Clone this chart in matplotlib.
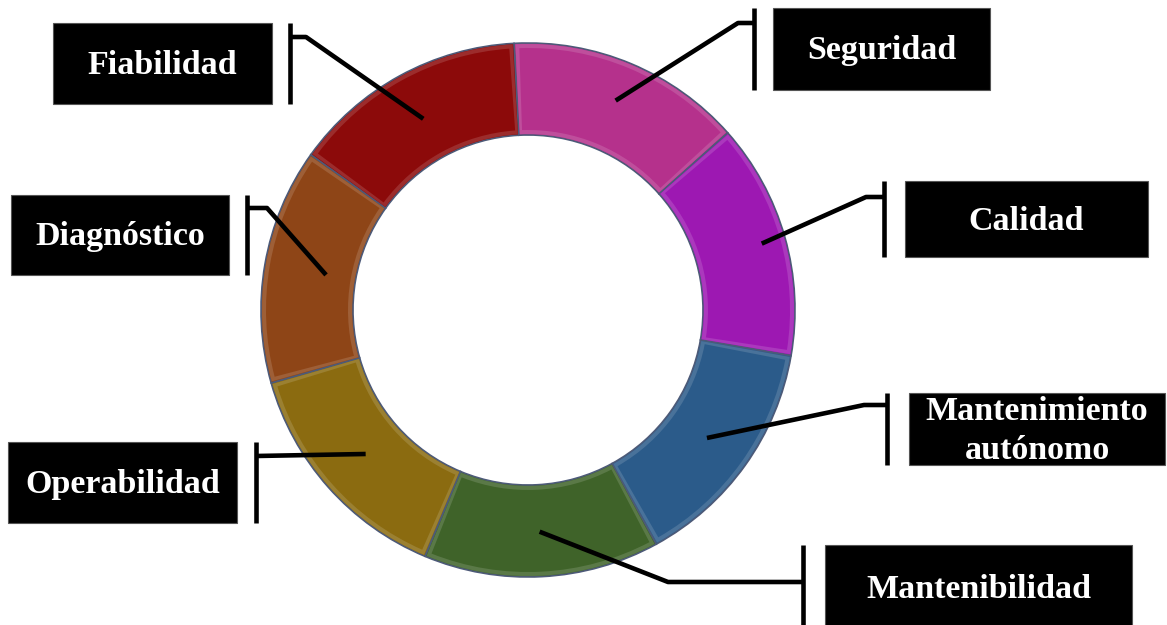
import numpy as np
import matplotlib.pyplot as plt
from matplotlib.patches import Rectangle, Wedge

# Seven equal pillars of the ring, clockwise from the top
labels = ["Seguridad", "Calidad", "Mantenimiento\nautónomo", "Mantenibilidad",
          "Operabilidad", "Diagnóstico", "Fiabilidad"]
values = [1, 1, 1, 1, 1, 1, 1]
colors = ["#B5318C", "#9D18B2", "#2B5B8A", "#3F6329", "#8B6B10", "#8E4517", "#8C0A0A"]

W, H = 1167, 625

# layout, in pixels from top-left: label box (x0, y0, x1, y1), bracket x, hook y, knee x,
# and how far out along the ring each leader ends
boxes = [(773, 8, 990, 90), (905, 181, 1148, 257), (909, 393, 1165, 465),
         (825, 545, 1132, 630), (8, 442, 237, 523), (11, 195, 229, 275),
         (53, 23, 272, 104)]
bar_x = [754, 884, 887, 803, 256, 247, 290]
hook_y = [23, 197, 405, 582, 456, 208, 37]
knee_x = [738, 866, 864, 668, 256, 267, 306]
tip_r = [227, 243, 220, 222, 217, 205, 218]

fig = plt.figure(figsize=(W / 100, H / 100), dpi=100)
ax = fig.add_axes([0, 0, 1, 1])

cx, cy, r_out, ring = 528, H - 310, 267, 92

wedges, _ = ax.pie(values, colors=colors, startangle=93, counterclock=False,
                   center=(cx, cy), radius=r_out, frame=True,
                   wedgeprops=dict(width=ring, edgecolor="#4d5a78", linewidth=1.2))
ax.set_xlim(0, W)
ax.set_ylim(0, H)
ax.set_aspect("equal")
ax.axis("off")


def lighten(c, f):
    rgb = np.array(plt.matplotlib.colors.to_rgb(c))
    return tuple(np.clip(rgb + (1 - rgb) * f, 0, 1))


# rough bevel: slightly lighter rim, main colour inset
for w, c in zip(wedges, colors):
    t1, t2 = w.theta1, w.theta2
    ax.add_patch(Wedge((cx, cy), r_out - 1, t1 + 0.3, t2 - 0.3, width=ring - 2,
                       facecolor=lighten(c, 0.14), edgecolor="none", zorder=2))
    ax.add_patch(Wedge((cx, cy), r_out - 5, t1 + 1.1, t2 - 1.1, width=ring - 10,
                       facecolor=c, edgecolor="none", zorder=3))

for i, w in enumerate(wedges):
    mid = np.deg2rad((w.theta1 + w.theta2) / 2)
    px, py = cx + tip_r[i] * np.cos(mid), cy + tip_r[i] * np.sin(mid)
    x0, y0, x1, y1 = boxes[i]
    ax.add_patch(Rectangle((x0, H - y1), x1 - x0, y1 - y0, facecolor="black",
                           edgecolor="#555555", linewidth=0.8, zorder=4))
    ax.text((x0 + x1) / 2, H - (y0 + y1) / 2 - 2, labels[i], color="white",
            fontsize=24.5, fontweight="bold", family="Liberation Serif",
            ha="center", va="center", linespacing=1.3, zorder=5)
    ax.plot([bar_x[i], bar_x[i]], [H - y0, H - y1], color="black", lw=3.3, zorder=4,
            solid_capstyle="butt")
    ax.plot([bar_x[i], knee_x[i], px], [H - hook_y[i], H - hook_y[i], py],
            color="black", lw=3.3, zorder=4, solid_capstyle="butt")

fig.savefig("out.png", dpi=100)
